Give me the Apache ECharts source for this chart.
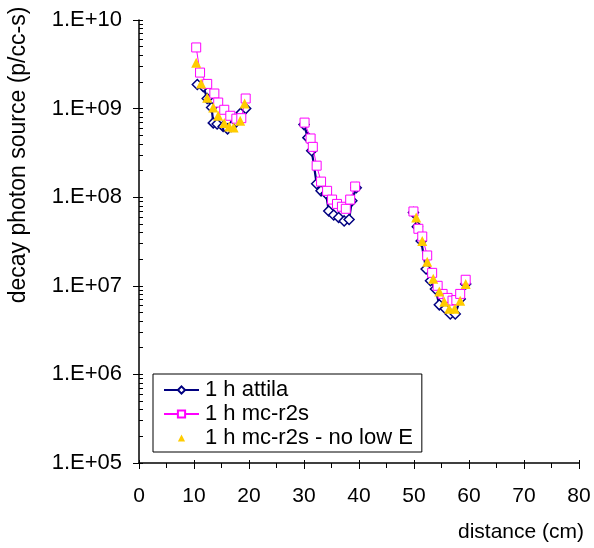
<!DOCTYPE html>
<html>
<head>
<meta charset="utf-8">
<script src="https://cdn.jsdelivr.net/npm/echarts@6.0.0/dist/echarts.min.js"></script>
<style>
html,body{margin:0;padding:0;background:#fff;}
#chart{width:594px;height:548px;}
</style>
</head>
<body>
<div id="chart"></div>
<script>
// ---- data (distance in cm, decay photon source in p/cc-s) ----
const seriesNames = ['1 h attila', '1 h mc-r2s', '1 h mc-r2s - no low E'];

const attilaX1 = [10.6, 11.7, 12.4, 13.2, 13.5, 14.2, 15.3, 16.1, 16.8, 17.7, 18.6, 19.4];
const attilaY1 = [1.87e9, 1.77e9, 1.3e9, 1.03e9, 6.9e8, 6.7e8, 6.3e8, 5.9e8, 6.3e8, 7.1e8, 9.0e8, 1.0e9];
const attilaX2 = [30.0, 30.7, 31.4, 32.3, 33.1, 34.0, 34.5, 35.4, 36.3, 37.3, 38.2, 38.7, 39.5];
const attilaY2 = [6.6e8, 4.7e8, 3.35e8, 1.42e8, 1.18e8, 1.1e8, 7.0e7, 6.3e7, 5.9e7, 5.4e7, 5.6e7, 9.1e7, 1.28e8];
const attilaX3 = [49.9, 50.6, 51.3, 52.2, 53.0, 53.9, 54.6, 55.7, 56.6, 57.5, 58.4, 59.4];
const attilaY3 = [6.7e7, 4.65e7, 3.2e7, 1.55e7, 1.14e7, 9.2e6, 6.1e6, 5.5e6, 4.8e6, 4.8e6, 7.1e6, 1.05e7];

const mcX1 = [10.4, 11.1, 12.4, 13.7, 14.4, 15.5, 16.6, 17.7, 18.6, 19.4];
const mcY1 = [4.9e9, 2.55e9, 1.9e9, 1.48e9, 1.17e9, 9.7e8, 8.3e8, 7.7e8, 7.8e8, 1.3e9];
const mcX2 = [30.1, 31.2, 31.6, 32.3, 33.1, 34.2, 35.1, 36.0, 36.9, 37.6, 38.4, 39.3];
const mcY2 = [6.95e8, 4.6e8, 3.7e8, 2.27e8, 1.5e8, 1.18e8, 9.4e7, 8.4e7, 7.8e7, 7.4e7, 9.4e7, 1.32e8];
const mcX3 = [49.9, 50.8, 51.5, 52.4, 53.3, 54.3, 55.2, 56.1, 57.0, 57.7, 58.4, 59.4];
const mcY3 = [6.9e7, 4.4e7, 3.6e7, 2.2e7, 1.4e7, 1.0e7, 8.1e6, 7.3e6, 6.8e6, 6.9e6, 8.1e6, 1.17e7];

const noLowX1 = [10.4, 11.3, 12.4, 13.5, 14.4, 15.5, 16.4, 17.2, 18.4, 19.2];
const noLowY1 = [3.3e9, 1.92e9, 1.33e9, 1.03e9, 8.3e8, 6.9e8, 6.3e8, 6.1e8, 7.3e8, 1.14e9];
const noLowX3 = [50.4, 51.5, 52.4, 53.5, 54.6, 55.5, 56.4, 57.4, 58.4, 59.4];
const noLowY3 = [5.9e7, 3.2e7, 1.87e7, 1.2e7, 8.6e6, 6.6e6, 5.5e6, 5.5e6, 6.8e6, 1.05e7];

const xTicks = [0, 10, 20, 30, 40, 50, 60, 70, 80];
const yExponents = [5, 6, 7, 8, 9, 10];

// ---- build ----
function segments(pairs) {
  const out = [];
  pairs.forEach(([xs, ys], i) => {
    if (i > 0) out.push(['-', '-']);
    xs.forEach((x, j) => out.push([x, ys[j]]));
  });
  return out;
}
const attilaData = segments([[attilaX1, attilaY1], [attilaX2, attilaY2], [attilaX3, attilaY3]]);
const mcData = segments([[mcX1, mcY1], [mcX2, mcY2], [mcX3, mcY3]]);
const noLowData = segments([[noLowX1, noLowY1], [noLowX3, noLowY3]]);

// log minor tick positions (in log10 space) for a decoration axis
const logTickVals = [];
for (let e = yExponents[0]; e < yExponents[yExponents.length - 1]; e++) {
  for (let k = 1; k <= 9; k++) logTickVals.push(e + Math.log10(k));
}
logTickVals.push(yExponents[yExponents.length - 1]);

const FONT = 'Liberation Sans, Arial, sans-serif';
const chart = echarts.init(document.getElementById('chart'), null, {renderer: 'canvas'});
const gridPos = {left: 139, right: 15, top: 20, bottom: 85};

chart.setOption({
  animation: false,
  backgroundColor: '#fff',
  grid: gridPos,
  xAxis: [{
    type: 'value', min: xTicks[0], max: xTicks[xTicks.length - 1], interval: 10,
    axisLine: {show: true, lineStyle: {color: '#000', width: 1.5}},
    axisTick: {show: true, length: 6, lineStyle: {color: '#000', width: 1}},
    minorTick: {show: true, splitNumber: 2, length: 5, lineStyle: {color: '#000', width: 1}},
    splitLine: {show: false},
    axisLabel: {color: '#000', fontSize: 21, fontFamily: FONT, margin: 23}
  }, {
    type: 'value', min: xTicks[0], max: xTicks[xTicks.length - 1], interval: 10,
    position: 'bottom',
    axisLine: {show: false},
    axisTick: {show: true, inside: true, length: 3, lineStyle: {color: '#000', width: 1}},
    axisLabel: {show: false}, splitLine: {show: false}
  }],
  yAxis: [{
    type: 'log', logBase: 10, min: Math.pow(10, yExponents[0]), max: Math.pow(10, yExponents[yExponents.length - 1]),
    axisLine: {show: true, lineStyle: {color: '#000', width: 1.5}},
    axisTick: {show: true, length: 6, lineStyle: {color: '#000', width: 1}},
    splitLine: {show: false},
    axisLabel: {
      color: '#000', fontSize: 22, fontFamily: FONT, margin: 17,
      formatter: v => '1.E+' + String(Math.round(Math.log10(v))).padStart(2, '0')
    }
  }, {
    type: 'value', min: yExponents[0], max: yExponents[yExponents.length - 1],
    position: 'left',
    axisLine: {show: false},
    axisTick: {show: true, inside: true, length: 4, customValues: logTickVals, lineStyle: {color: '#000', width: 1}},
    axisLabel: {show: false}, splitLine: {show: false}
  }],
  legend: {
    left: 153, top: 374, orient: 'vertical',
    padding: [5, 9, 3, 10],
    borderColor: '#000', borderWidth: 1, backgroundColor: '#fff',
    itemWidth: 35, itemHeight: 9, itemGap: 2,
    textStyle: {color: '#000', fontSize: 22, fontFamily: FONT, lineHeight: 21, padding: [0, 0, 0, 1]},
    data: seriesNames
  },
  series: [{
    name: seriesNames[0], type: 'line', data: attilaData, connectNulls: false,
    symbol: 'diamond', symbolSize: 10, showAllSymbol: true,
    itemStyle: {color: '#fff', borderColor: '#000080', borderWidth: 1.5},
    lineStyle: {color: '#000080', width: 2.2},
    z: 2
  }, {
    name: seriesNames[1], type: 'line', data: mcData, connectNulls: false,
    symbol: 'rect', symbolSize: 9, showAllSymbol: true,
    itemStyle: {color: '#fff', borderColor: '#ff00ff', borderWidth: 1},
    lineStyle: {color: '#ff00ff', width: 1},
    z: 3
  }, {
    name: seriesNames[2], type: 'line', data: noLowData, connectNulls: false,
    symbol: 'triangle', symbolSize: 10, showAllSymbol: true,
    itemStyle: {color: '#ffcc00', borderWidth: 0},
    lineStyle: {width: 0, opacity: 0},
    z: 4
  }],
  graphic: [{
    type: 'text', x: 19, y: 155, rotation: Math.PI / 2,
    style: {text: 'decay photon source (p/cc-s)', font: '23px ' + FONT, fill: '#000', textAlign: 'center', textVerticalAlign: 'middle'}
  }, {
    type: 'text', x: 584, y: 532,
    style: {text: 'distance (cm)', font: '21px ' + FONT, fill: '#000', textAlign: 'right', textVerticalAlign: 'middle'}
  }]
});
</script>
</body>
</html>
